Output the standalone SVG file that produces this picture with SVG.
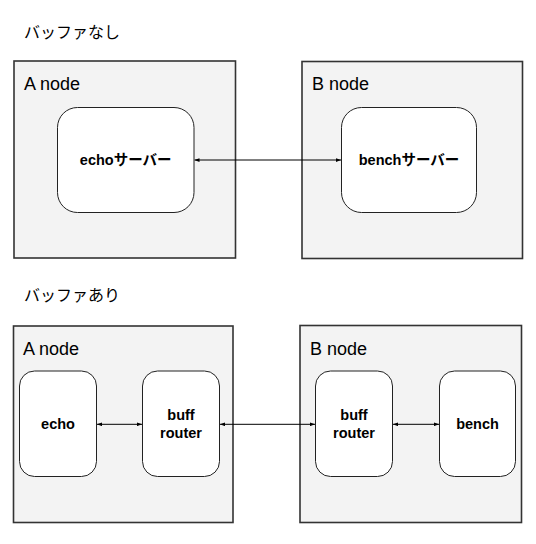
<svg xmlns="http://www.w3.org/2000/svg" width="536" height="544" viewBox="0 0 536 544">
<defs>
<style>
.host{fill:#f3f3f3;stroke:#333;stroke-width:1.6}
.proc{fill:#fff;stroke:#222;stroke-width:1}
.title{font-family:"Liberation Sans","Noto Sans CJK JP",sans-serif;font-size:16px;fill:#000}
.hl{font-family:"Liberation Sans",Arial,sans-serif;font-size:18px;fill:#000}
.pl{font-family:"Liberation Sans","Noto Sans CJK JP",sans-serif;font-size:14.5px;font-weight:bold;fill:#000;text-anchor:middle}
.conn{stroke:#000;stroke-width:1;fill:none;marker-start:url(#ah);marker-end:url(#ah)}
</style>
<marker id="ah" viewBox="0 0 8 6" refX="8" refY="3" markerWidth="5" markerHeight="3.75" markerUnits="userSpaceOnUse" orient="auto-start-reverse">
<path d="M0,0 L8,3 L0,6 z" fill="#000"/>
</marker>
</defs>
<rect width="536" height="544" fill="#fff"/>
<text class="title" x="24" y="38">バッファなし</text>
<text class="title" x="24" y="301">バッファあり</text>
<g id="a-node-1">
<rect class="host" x="14" y="61" width="221.5" height="197"/>
<text class="hl" x="24" y="90">A node</text>
</g>
<g id="b-node-1">
<rect class="host" x="302" y="61.5" width="220.5" height="197"/>
<text class="hl" x="312" y="89.5">B node</text>
</g>
<g id="echo-server">
<rect class="proc" x="57.5" y="107.5" width="136.5" height="105" rx="20"/>
<text class="pl" x="125.7" y="165">echoサーバー</text>
</g>
<g id="bench-server">
<rect class="proc" x="341.5" y="107.5" width="135" height="105" rx="20"/>
<text class="pl" x="409" y="165">benchサーバー</text>
</g>
<g id="a-node-2">
<rect class="host" x="13.5" y="326" width="219.5" height="196.5"/>
<text class="hl" x="23" y="355">A node</text>
</g>
<g id="b-node-2">
<rect class="host" x="300" y="325.5" width="221.5" height="197"/>
<text class="hl" x="310" y="354.5">B node</text>
</g>
<g id="echo">
<rect class="proc" x="19.5" y="371" width="77" height="105.5" rx="15"/>
<text class="pl" x="58" y="429">echo</text>
</g>
<g id="buff-router-a">
<rect class="proc" x="142.5" y="371" width="77" height="105.5" rx="15"/>
<text class="pl" x="181" y="420">buff</text>
<text class="pl" x="181" y="437.5">router</text>
</g>
<g id="buff-router-b">
<rect class="proc" x="315.5" y="371" width="77" height="105.5" rx="15"/>
<text class="pl" x="354" y="420">buff</text>
<text class="pl" x="354" y="437.5">router</text>
</g>
<g id="bench">
<rect class="proc" x="439.5" y="371" width="76" height="105.5" rx="15"/>
<text class="pl" x="477.5" y="429">bench</text>
</g>
<g id="connectors">
<line class="conn" x1="194.5" y1="160" x2="341" y2="160"/>
<line class="conn" x1="97" y1="424.3" x2="142" y2="424.3"/>
<line class="conn" x1="220" y1="424.3" x2="315" y2="424.3"/>
<line class="conn" x1="393" y1="424.3" x2="439" y2="424.3"/>
</g>
</svg>
